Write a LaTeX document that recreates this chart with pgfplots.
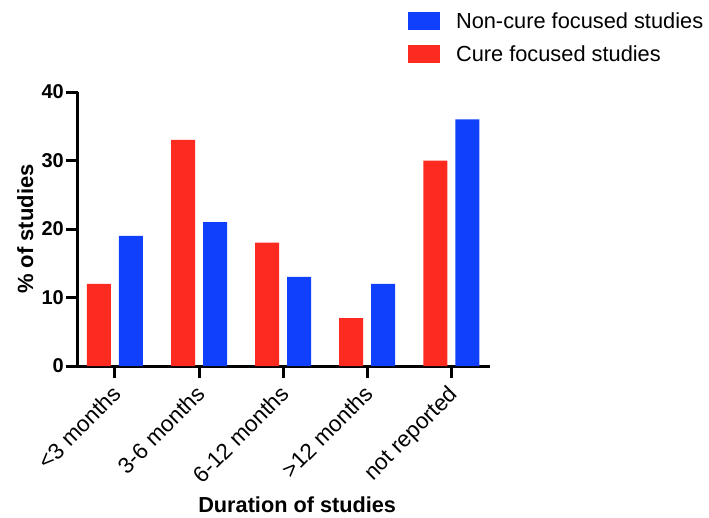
\documentclass[border=0pt]{standalone}
\usepackage{pgfplots}
\pgfplotsset{compat=1.18}
\usepackage{fontspec}
\setmainfont{Liberation Sans}
\definecolor{curered}{RGB}{253,43,31}
\definecolor{noncureblue}{RGB}{16,64,252}
\begin{document}
\begin{tikzpicture}
\useasboundingbox (-78pt,-151pt) rectangle (631pt,366pt);
\begin{axis}[
  scale only axis,
  width=412pt, height=274pt,
  xmin=-0.44, xmax=4.46,
  ymin=0, ymax=40,
  axis lines*=left,
  axis line style={line width=3pt, -},
  every tick/.style={line width=3pt, black},
  major tick length=12pt,
  tick align=outside,
  ytick={0,10,20,30,40},
  xtick={0,1,2,3,4},
  xticklabels={{<3 months},{3-6 months},{6-12 months},{>12 months},{not reported}},
  /pgf/number format/assume math mode=true,
  yticklabel style={font=\fontsize{20}{20}\selectfont\bfseries, inner sep=2pt},
  xticklabel style={font=\fontsize{22.5}{22.5}\selectfont, shift={(-4pt,-3pt)}, rotate=45, anchor=north east, inner sep=2pt},
  ylabel={\% of studies},
  ylabel style={font=\fontsize{22}{22}\selectfont\bfseries, at={(axis description cs:-0.109,0.5)}, anchor=base, rotate=0},
  xlabel={Duration of studies},
  xlabel style={font=\fontsize{21.7}{21.7}\selectfont\bfseries, at={(axis description cs:0.532,-0.533)}, anchor=base},
  ybar,
  bar width=24pt,
  reverse legend,
  legend image code/.code={\fill[#1] (0pt,-9pt) rectangle (32pt,9pt);},
  legend style={at={(axis description cs:0.801,1.292)}, anchor=north west, draw=none, fill=none, inner sep=0pt, outer sep=0pt, row sep=15pt, font=\fontsize{21.8}{21.8}\selectfont, nodes={inner sep=0pt}, /tikz/every odd column/.append style={column sep=16pt}},
  legend cell align=left,
]
\addplot[fill=curered, draw=none, bar shift=-16pt] coordinates {(0,12) (1,33) (2,18) (3,7) (4,30)};
\addlegendentry{Cure focused studies}
\addplot[fill=noncureblue, draw=none, bar shift=16pt] coordinates {(0,19) (1,21) (2,13) (3,12) (4,36)};
\addlegendentry{Non-cure focused studies}
\end{axis}
\end{tikzpicture}
\end{document}
